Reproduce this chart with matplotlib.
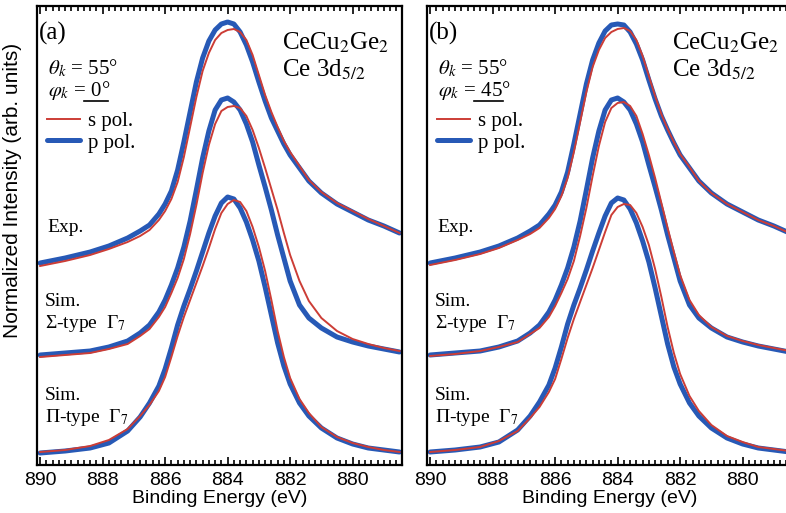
import numpy as np
import matplotlib
matplotlib.use("Agg")
import matplotlib.pyplot as plt
import matplotlib.ticker as ticker
from matplotlib.lines import Line2D

plt.rcParams['font.family'] = ['Liberation Sans', 'DejaVu Sans']
plt.rcParams['mathtext.fontset'] = 'stix'

# binding energy grid (eV)
energy = [890, 889.2, 888.4, 887.8, 887.2, 886.8, 886.5, 886.2, 886.0, 885.8, 885.6, 885.4, 885.2,
          885.0, 884.8, 884.6, 884.4, 884.2, 884.0, 883.8, 883.6, 883.4, 883.2, 883.0, 882.8, 882.6,
          882.4, 882.2, 882.0, 881.7, 881.4, 881.0, 880.5, 880.0, 879.5, 879.0, 878.5]

# (a) phi_k = 0 deg, stacked curves (arb. units, offsets included)
a_exp_p = [202, 207, 213, 219, 227, 234, 240, 251, 261, 274, 295, 323, 353, 383, 407, 424, 435, 441,
           443, 441, 433, 420, 403, 383, 364, 347, 334, 321, 310, 297, 284, 272, 261, 253, 245, 239, 232]
a_exp_s = [199, 204, 210, 216, 223, 229, 235, 245, 254, 266, 283, 308, 338, 368, 394, 412, 425, 432,
           435, 436, 433, 425, 410, 390, 370, 353, 338, 324, 313, 299, 285, 273, 262, 254, 246, 239, 232]
a_sig_p = [110, 112, 114, 118, 124, 132, 140, 153, 165, 180, 197, 218, 244, 275, 307, 334, 355, 365,
           367, 363, 355, 341, 323, 300, 278, 255, 230, 207, 184, 160, 147, 137, 128, 123, 119, 116, 113]
a_sig_s = [108, 110, 112, 116, 121, 129, 136, 148, 158, 172, 187, 206, 231, 260, 292, 320, 341, 354,
           358, 359, 357, 349, 335, 317, 297, 276, 255, 232, 210, 184, 164, 147, 134, 126, 121, 117, 114]
a_pi_p = [12, 14, 17, 22, 34, 48, 62, 79, 96, 117, 140, 159, 176, 194, 213, 232, 249, 262,
          268, 266, 257, 243, 225, 204, 178, 150, 122, 99, 81, 62, 49, 37, 27, 21, 17, 15, 13]
a_pi_s = [13, 15, 19, 25, 36, 49, 60, 74, 88, 108, 129, 148, 165, 182, 199, 217, 236, 252,
          261, 265, 263, 254, 238, 218, 194, 165, 134, 108, 87, 66, 52, 38, 28, 22, 18, 15, 13]

# (b) phi_k = 45 deg
b_exp_p = [202, 207, 213, 219, 227, 234, 240, 251, 260, 273, 293, 321, 351, 381, 405, 422, 434, 440,
           441, 440, 433, 421, 405, 385, 366, 349, 335, 322, 310, 297, 284, 272, 261, 253, 245, 239, 232]
b_exp_s = [200, 205, 211, 217, 225, 231, 237, 247, 256, 269, 287, 313, 343, 373, 398, 415, 427, 433,
           436, 437, 434, 425, 409, 389, 369, 351, 336, 323, 311, 298, 284, 272, 261, 253, 245, 239, 232]
b_sig_p = [110, 112, 114, 118, 124, 132, 140, 153, 165, 180, 197, 218, 244, 275, 307, 334, 355, 365,
           367, 363, 355, 341, 323, 300, 278, 255, 230, 207, 184, 160, 147, 137, 128, 123, 119, 116, 113]
b_sig_s = [109, 111, 114, 118, 123, 131, 137, 148, 159, 172, 186, 204, 229, 257, 289, 319, 343, 357,
           362, 363, 359, 349, 331, 310, 287, 262, 237, 213, 190, 165, 150, 138, 129, 124, 120, 117, 114]
b_pi_p = [13, 15, 18, 23, 35, 49, 63, 80, 97, 118, 141, 160, 177, 195, 214, 232, 249, 262,
          267, 265, 256, 242, 224, 203, 177, 149, 121, 98, 81, 62, 49, 37, 27, 21, 17, 15, 13]
b_pi_s = [13, 15, 18, 24, 34, 47, 58, 73, 86, 106, 127, 146, 163, 180, 197, 215, 233, 250,
          258, 261, 260, 252, 238, 220, 196, 168, 138, 112, 91, 69, 54, 40, 29, 23, 18, 16, 14]

panels = [
    ('(a)', '0°', [(a_exp_p, a_exp_s), (a_sig_p, a_sig_s), (a_pi_p, a_pi_s)]),
    ('(b)', '45°', [(b_exp_p, b_exp_s), (b_sig_p, b_sig_s), (b_pi_p, b_pi_s)]),
]

blue = '#2759b6'
red = '#cc3d36'
serif = ['Liberation Serif', 'DejaVu Serif']

W, H = 786, 513
fig = plt.figure(figsize=(W / 100, H / 100), dpi=100)

ax_left = [37, 427]
ax_w, ax_top, ax_bot = 365, 6, 465

for k, (tag, phi, curves) in enumerate(panels):
    x0 = ax_left[k]
    ax = fig.add_axes([x0 / W, 1 - ax_bot / H, ax_w / W, (ax_bot - ax_top) / H])

    def pos(px, py):
        # pixel position inside the panel -> axes fraction
        return (px - x0) / ax_w, (ax_bot - py) / (ax_bot - ax_top)

    for i, (p, s) in enumerate(curves):
        ax.plot(energy, p, color=blue, lw=3.6, solid_capstyle='round', solid_joinstyle='round',
                label='p pol.' if i == 0 else None, zorder=2)
        ax.plot(energy, s, color=red, lw=1.4, solid_joinstyle='round',
                label='s pol.' if i == 0 else None, zorder=3)

    ax.set_xlim(890.1, 878.42)
    ax.set_ylim(0, ax_bot - ax_top)
    ax.xaxis.set_major_locator(ticker.MultipleLocator(2))
    ax.xaxis.set_minor_locator(ticker.MultipleLocator(0.2))
    ax.xaxis.set_major_formatter(ticker.FormatStrFormatter('%d'))
    ax.tick_params(axis='x', which='both', direction='in', top=True, labelsize=14,
                   width=1.2, colors='black', pad=5)
    ax.tick_params(axis='x', which='major', length=6)
    ax.tick_params(axis='x', which='minor', length=3.5)
    ax.set_yticks([])
    for sp in ax.spines.values():
        sp.set_linewidth(1.6)
    ax.set_xlabel('Binding Energy (eV)', fontsize=14, labelpad=1)

    ax.text(*pos(x0 + 2, 33), tag, transform=ax.transAxes, family=serif, fontsize=18, va='center')
    ax.text(*pos(x0 + 245, 43), r'CeCu$_2$Ge$_2$', transform=ax.transAxes, family=serif,
            fontsize=18, va='center')
    ax.text(*pos(x0 + 245, 70), r'Ce 3d$_{5/2}$', transform=ax.transAxes, family=serif,
            fontsize=18, va='center')
    ax.text(*pos(x0 + 11, 68), r'$\theta_k$ = 55°', transform=ax.transAxes, family=serif,
            fontsize=15, va='center')
    ax.text(*pos(x0 + 11, 90), r'$\varphi_k$ = ' + phi, transform=ax.transAxes, family=serif,
            fontsize=15, va='center')
    ul_end = 108 if k == 0 else 113
    ax.add_line(Line2D([pos(x0 + 47, 101)[0], pos(x0 + ul_end - 37, 101)[0]],
                       [pos(0, 101)[1]] * 2, transform=ax.transAxes, color='black', lw=1.2))
    ax.text(*pos(x0 + 10, 228), 'Exp.', transform=ax.transAxes, family=serif, fontsize=14,
            va='center')
    ax.text(*pos(x0 + 8, 302), 'Sim.', transform=ax.transAxes, family=serif, fontsize=14,
            va='center')
    ax.text(*pos(x0 + 8, 323), r'Σ-type  Γ$_7$', transform=ax.transAxes, family=serif,
            fontsize=14, va='center')
    ax.text(*pos(x0 + 8, 395), 'Sim.', transform=ax.transAxes, family=serif, fontsize=14,
            va='center')
    ax.text(*pos(x0 + 8, 418), r'Π-type  Γ$_7$', transform=ax.transAxes, family=serif,
            fontsize=14, va='center')

    handles, labels = ax.get_legend_handles_labels()
    order = [labels.index('s pol.'), labels.index('p pol.')]
    ax.legend([handles[j] for j in order], [labels[j] for j in order],
              loc='center left', bbox_to_anchor=pos(x0 + 10, 132), frameon=False,
              prop={'family': serif, 'size': 15}, handlelength=1.6, handletextpad=0.35,
              labelspacing=0.1, borderpad=0, borderaxespad=0)

fig.text(13 / W, 1 - 190 / H, 'Normalized Intensity (arb. units)', rotation=90,
         ha='center', va='center', fontsize=15)

fig.savefig('out.png', dpi=100)
